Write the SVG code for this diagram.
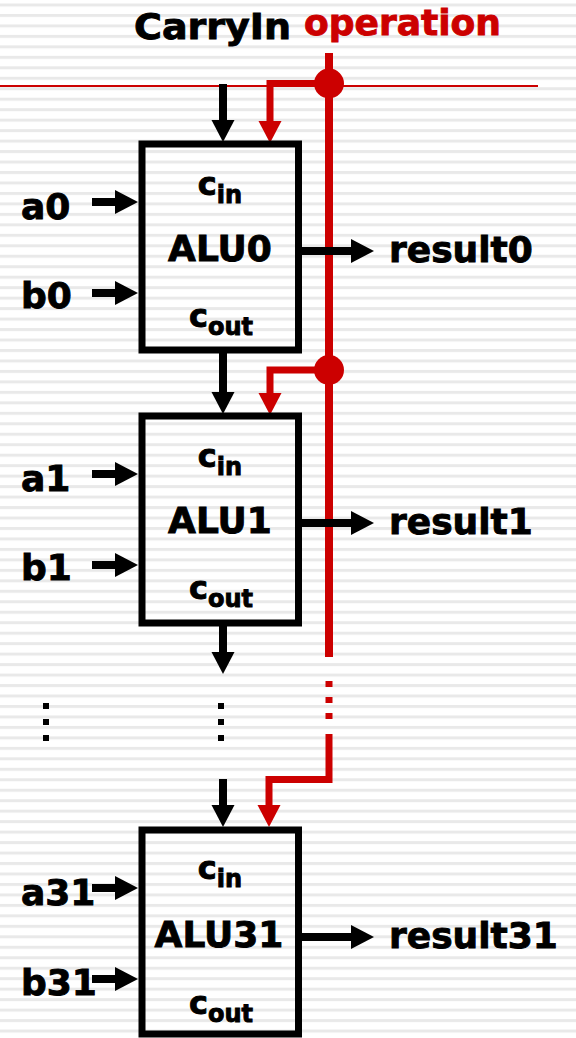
<svg xmlns="http://www.w3.org/2000/svg" xmlns:xlink="http://www.w3.org/1999/xlink" width="576" height="1038" viewBox="0 0 576 1038">
<style>
text{font-family:"DejaVu Sans",Verdana,"Liberation Sans",sans-serif;font-weight:bold;fill:#000;stroke:#000;stroke-width:0.9}
.lbl{font-size:36px}
.red{fill:#cc0000;stroke:#cc0000}
.box{fill:none;stroke:#000;stroke-width:7}
.blk{fill:none;stroke:#000;stroke-width:8}
.rbus{fill:none;stroke:#cc0000;stroke-width:8}
.rcon{fill:none;stroke:#cc0000;stroke-width:7}
.c{font-size:32px}
.sub{font-size:24px}
</style>
<defs>
<pattern id="stripes" patternUnits="userSpaceOnUse" x="0" y="3.5" width="576" height="10.47">
<rect x="0" y="0" width="576" height="3" fill="#e9e9e9"/>
</pattern>
<polygon id="hd" points="-11.5,-22 11.5,-22 0,0"/>
<polygon id="hr" points="-23,-12 -23,12 0,0"/>
</defs>
<rect width="576" height="1038" fill="#fff"/>
<rect width="576" height="1038" fill="url(#stripes)"/>

<g id="titles">
<text class="lbl" x="134" y="39" textLength="157" lengthAdjust="spacingAndGlyphs">CarryIn</text>
<text class="lbl red" x="304" y="35">operation</text>
</g>

<g id="connectors">
<line x1="0" y1="86" x2="538" y2="86" stroke="#cc0000" stroke-width="2"/>
<path class="blk" d="M223,84 V121 M223,353 V393 M223,626 V652 M223,779 V805"/>
<g fill="#000">
<use xlink:href="#hd" x="223" y="142"/>
<use xlink:href="#hd" x="223" y="414"/>
<use xlink:href="#hd" x="223" y="674"/>
<use xlink:href="#hd" x="223" y="827"/>
</g>
<path class="rbus" d="M329,53 V657"/>
<path class="rcon" d="M329,734 V779.5 H269 V805"/>
<path class="rcon" d="M329,83.5 H270 V122"/>
<path class="rcon" d="M329,370 H270 V394"/>
<g fill="#cc0000">
<circle cx="329" cy="83.5" r="15"/>
<circle cx="329" cy="370" r="15"/>
<rect x="325.5" y="681" width="7" height="6"/>
<rect x="325.5" y="697" width="7" height="6"/>
<rect x="325.5" y="713" width="7" height="6"/>
<use xlink:href="#hd" x="270" y="143"/>
<use xlink:href="#hd" x="270" y="415"/>
<use xlink:href="#hd" x="269" y="827"/>
</g>
<path class="blk" d="M92,202 H116 M92,293 H116 M92,474 H116 M92,565 H116 M92,888 H116 M92,979 H116 M302,251 H352 M302,523 H352 M302,937 H352"/>
<g fill="#000">
<use xlink:href="#hr" x="138" y="202"/>
<use xlink:href="#hr" x="138" y="293"/>
<use xlink:href="#hr" x="138" y="474"/>
<use xlink:href="#hr" x="138" y="565"/>
<use xlink:href="#hr" x="138" y="888"/>
<use xlink:href="#hr" x="138" y="979"/>
<use xlink:href="#hr" x="374" y="251"/>
<use xlink:href="#hr" x="374" y="523"/>
<use xlink:href="#hr" x="374" y="937"/>
</g>
<g fill="#000">
<rect x="43" y="703" width="6" height="6"/>
<rect x="43" y="719" width="6" height="6"/>
<rect x="43" y="735" width="6" height="6"/>
<rect x="218" y="703" width="6" height="6"/>
<rect x="218" y="719" width="6" height="6"/>
<rect x="218" y="735" width="6" height="6"/>
</g>
</g>

<g id="alu0">
<rect class="box" x="142" y="144" width="156.5" height="206"/>
<text x="220" y="195" text-anchor="middle"><tspan class="c">c</tspan><tspan class="sub" dy="8">in</tspan></text>
<text class="lbl" x="220" y="261" text-anchor="middle">ALU0</text>
<text x="221" y="327" text-anchor="middle"><tspan class="c">c</tspan><tspan class="sub" dy="8">out</tspan></text>
</g>
<g id="alu1">
<rect class="box" x="142" y="416" width="156.5" height="207"/>
<text x="220" y="467" text-anchor="middle"><tspan class="c">c</tspan><tspan class="sub" dy="8">in</tspan></text>
<text class="lbl" x="220" y="533" text-anchor="middle">ALU1</text>
<text x="221" y="599" text-anchor="middle"><tspan class="c">c</tspan><tspan class="sub" dy="8">out</tspan></text>
</g>
<g id="alu31">
<rect class="box" x="142" y="830" width="156.5" height="204"/>
<text x="220" y="879" text-anchor="middle"><tspan class="c">c</tspan><tspan class="sub" dy="8">in</tspan></text>
<text class="lbl" x="219" y="947" text-anchor="middle">ALU31</text>
<text x="221" y="1014" text-anchor="middle"><tspan class="c">c</tspan><tspan class="sub" dy="8">out</tspan></text>
</g>

<g id="inputs">
<text class="lbl" x="21" y="219">a0</text>
<text class="lbl" x="21" y="308">b0</text>
<text class="lbl" x="21" y="491">a1</text>
<text class="lbl" x="21" y="580">b1</text>
<text class="lbl" x="21" y="905">a31</text>
<text class="lbl" x="21" y="995">b31</text>
</g>
<g id="outputs">
<text class="lbl" x="389" y="262">result0</text>
<text class="lbl" x="389" y="534">result1</text>
<text class="lbl" x="389" y="948">result31</text>
</g>
</svg>
